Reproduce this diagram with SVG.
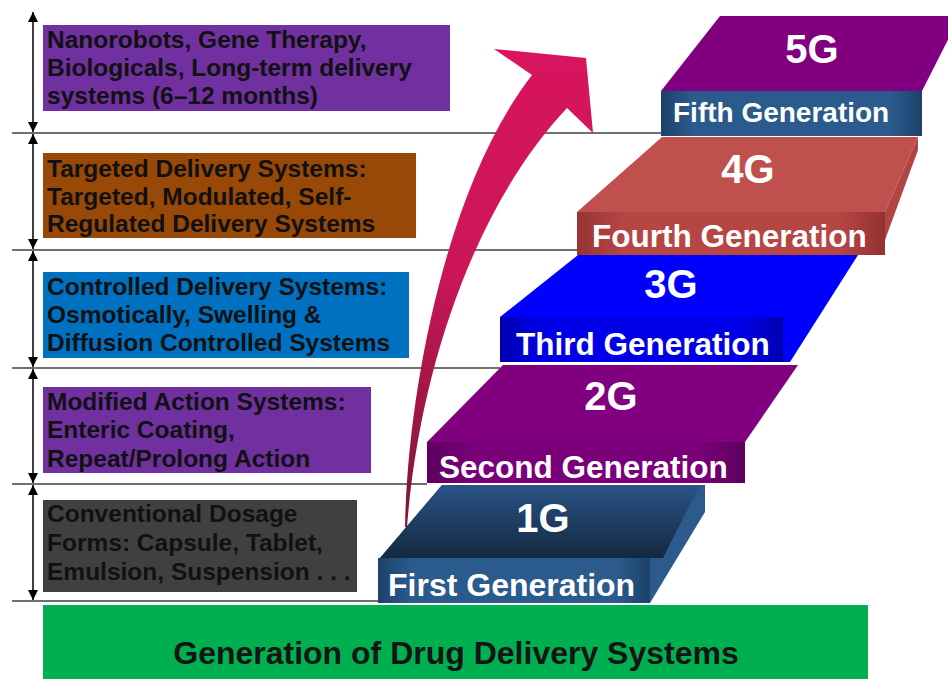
<svg xmlns="http://www.w3.org/2000/svg" width="948" height="679" viewBox="0 0 948 679">
<defs>
<style>
.lt{font-family:"Liberation Sans",Arial,sans-serif;font-weight:bold;font-size:24.5px;fill:#111111}
.gl{font-family:"Liberation Sans",Arial,sans-serif;font-weight:bold;font-size:40px;fill:#ffffff;text-anchor:middle}
.fl{font-family:"Liberation Sans",Arial,sans-serif;font-weight:bold;font-size:31.5px;fill:#ffffff}
.hl{stroke:#404040;stroke-width:1.5;fill:none}
.va{stroke:#000;stroke-width:1.5;fill:none;marker-start:url(#ah);marker-end:url(#ah)}
</style>
<marker id="ah" viewBox="0 0 10 10" refX="10" refY="5" markerWidth="10" markerHeight="11" markerUnits="userSpaceOnUse" orient="auto-start-reverse">
<path d="M0,0 L10,5 L0,10 z" fill="#000"/>
</marker>
<linearGradient id="arr" gradientUnits="userSpaceOnUse" x1="0" y1="50" x2="0" y2="527">
<stop offset="0" stop-color="#D8145E"/>
<stop offset="0.45" stop-color="#CC1659"/>
<stop offset="1" stop-color="#7C1535"/>
</linearGradient>
<linearGradient id="fBlue" x1="0" y1="0" x2="1" y2="0">
<stop offset="0" stop-color="#1C416A"/><stop offset="0.12" stop-color="#2B5A8C"/><stop offset="0.88" stop-color="#2B5A8C"/><stop offset="1" stop-color="#1C416A"/>
</linearGradient>
<linearGradient id="fRed" x1="0" y1="0" x2="1" y2="0">
<stop offset="0" stop-color="#973434"/><stop offset="0.15" stop-color="#B54644"/><stop offset="0.85" stop-color="#B54644"/><stop offset="1" stop-color="#943232"/>
</linearGradient>
<linearGradient id="fB3" x1="0" y1="0" x2="1" y2="0">
<stop offset="0" stop-color="#0000B0"/><stop offset="0.15" stop-color="#0000E6"/><stop offset="0.85" stop-color="#0000E6"/><stop offset="1" stop-color="#0000B0"/>
</linearGradient>
<linearGradient id="fPur" x1="0" y1="0" x2="1" y2="0">
<stop offset="0" stop-color="#5E005E"/><stop offset="0.15" stop-color="#7A007A"/><stop offset="0.85" stop-color="#7A007A"/><stop offset="1" stop-color="#5E005E"/>
</linearGradient>
<linearGradient id="t1" x1="0" y1="0" x2="0" y2="1">
<stop offset="0" stop-color="#2A5385"/><stop offset="1" stop-color="#142840"/>
</linearGradient>
</defs>
<rect width="948" height="679" fill="#ffffff"/>

<g id="connectors">
<line class="hl" x1="12" y1="133" x2="661" y2="133"/>
<line class="hl" x1="12" y1="250" x2="578" y2="250"/>
<line class="hl" x1="12" y1="368" x2="500" y2="368"/>
<line class="hl" x1="12" y1="484" x2="427" y2="484"/>
<line class="hl" x1="12" y1="601" x2="380" y2="601"/>
<line class="va" x1="33" y1="12" x2="33" y2="132"/>
<line class="va" x1="33" y1="134" x2="33" y2="249"/>
<line class="va" x1="33" y1="251" x2="33" y2="367"/>
<line class="va" x1="33" y1="369" x2="33" y2="483"/>
<line class="va" x1="33" y1="485" x2="33" y2="600"/>
</g>

<g id="box5">
<rect x="43" y="25" width="407" height="86" fill="#7030A0"/>
<text class="lt" x="47" y="48">Nanorobots, Gene Therapy,</text>
<text class="lt" x="47" y="76">Biologicals, Long-term delivery</text>
<text class="lt" x="47" y="104">systems (6–12 months)</text>
</g>
<g id="box4">
<rect x="43" y="153" width="373" height="85" fill="#984807"/>
<text class="lt" x="47" y="177">Targeted Delivery Systems:</text>
<text class="lt" x="47" y="205">Targeted, Modulated, Self-</text>
<text class="lt" x="47" y="232">Regulated Delivery Systems</text>
</g>
<g id="box3">
<rect x="43" y="272" width="366" height="86" fill="#0070C0"/>
<text class="lt" x="47" y="295">Controlled Delivery Systems:</text>
<text class="lt" x="47" y="323">Osmotically, Swelling &amp;</text>
<text class="lt" x="47" y="351">Diffusion Controlled Systems</text>
</g>
<g id="box2">
<rect x="43" y="387" width="328" height="86" fill="#7030A0"/>
<text class="lt" x="47" y="410">Modified Action Systems:</text>
<text class="lt" x="47" y="438">Enteric Coating,</text>
<text class="lt" x="47" y="467">Repeat/Prolong Action</text>
</g>
<g id="box1">
<rect x="43" y="500" width="314" height="92" fill="#404040"/>
<text class="lt" x="47" y="522">Conventional Dosage</text>
<text class="lt" x="47" y="551">Forms: Capsule, Tablet,</text>
<text class="lt" x="47" y="580">Emulsion, Suspension . . .</text>
</g>

<g id="step5">
<polygon points="720,16 960,16 922,91 661,91" fill="#800080"/>
<rect x="661" y="91" width="261" height="45" fill="url(#fBlue)"/>
<text class="gl" x="812" y="63">5G</text>
<text class="fl" x="673" y="122" style="font-size:28px">Fifth Generation</text>
</g>
<g id="step4">
<polygon points="662,137 918,137 885,212 577,212" fill="#C0504D"/>
<polygon points="918,137 918,150 885,240 885,212" fill="#B04543"/>
<rect x="577" y="212" width="308" height="43" fill="url(#fRed)"/>
<text class="gl" x="748" y="183">4G</text>
<text class="fl" x="592" y="247">Fourth Generation</text>
</g>
<g id="step3">
<polygon points="578,255 858,255 790,362 500,362 500,317" fill="#0000FF"/>
<rect x="500" y="317" width="283" height="45" fill="url(#fB3)"/>
<text class="gl" x="671" y="298">3G</text>
<text class="fl" x="516" y="355">Third Generation</text>
</g>
<g id="step2">
<polygon points="503,365 798,365 745,442 427,442" fill="#800080"/>
<rect x="427" y="442" width="318" height="41" fill="url(#fPur)"/>
<text class="gl" x="611" y="410">2G</text>
<text class="fl" x="439" y="478">Second Generation</text>
</g>
<g id="step1">
<polygon points="442,485 705,485 705,512 650,603 380,603 380,558" fill="#2C5A8C"/>
<polygon points="442,485 700,485 663,558 380,558" fill="url(#t1)"/>
<rect x="378" y="558" width="272" height="45" fill="url(#fBlue)"/>
<text class="gl" x="543" y="532">1G</text>
<text class="fl" x="388" y="596" style="font-size:32px">First Generation</text>
</g>

<g id="arrow">
<path d="M405,527 C408,380 450,180 532,75 L494,49 L586,58 L593,133 L567,108 C480,200 420,360 407,527 Z" fill="url(#arr)"/>
</g>

<g id="title">
<rect x="43" y="605" width="825" height="74" fill="#00B050"/>
<text x="456" y="664" text-anchor="middle" style="font-family:'Liberation Sans',Arial,sans-serif;font-weight:bold;font-size:32px;fill:#141414">Generation of Drug Delivery Systems</text>
</g>
</svg>
